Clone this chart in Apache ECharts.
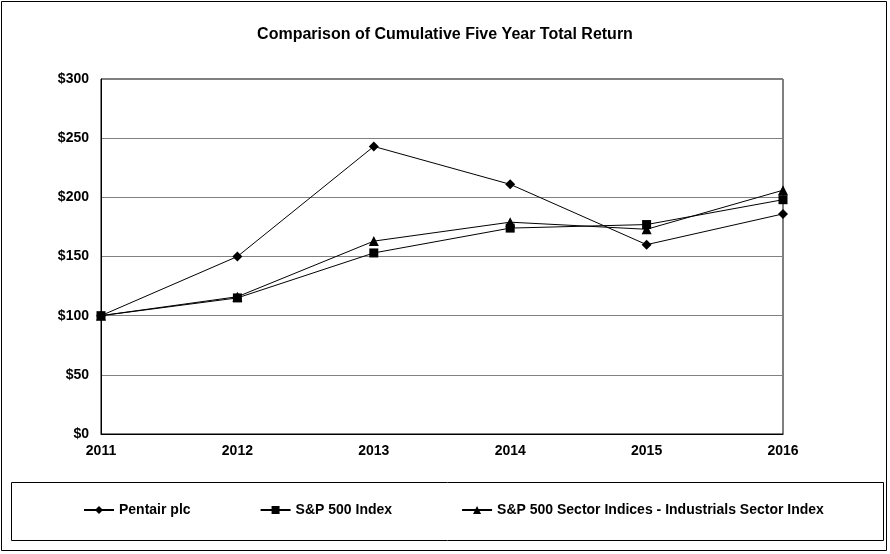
<!DOCTYPE html>
<html><head><meta charset="utf-8">
<script src="https://cdn.jsdelivr.net/npm/echarts@6/dist/echarts.min.js"></script>
<style>html,body{margin:0;padding:0;background:#fff}#c{width:890px;height:554px}</style>
</head><body><div id="c"></div>
<script>
const years = ['2011','2012','2013','2014','2015','2016'];
const pentair = [100, 150, 243, 211, 160, 186];
const sp500 = [100, 115, 153, 174, 177, 198];
const industrials = [100, 116, 163, 179, 173, 206];
const seriesNames = ['Pentair plc', 'S&P 500 Index', 'S&P 500 Sector Indices - Industrials Sector Index'];

const font = 'Arial, "Liberation Sans", sans-serif';
const chart = echarts.init(document.getElementById('c'));
function mk(name, data, symbol, size) {
  return {
    name, type: 'line', data, symbol, symbolSize: size,
    lineStyle: {color: '#000', width: 1},
    itemStyle: {color: '#000'},
    emphasis: {disabled: true},
    animation: false
  };
}
chart.setOption({
  animation: false,
  title: {
    text: 'Comparison of Cumulative Five Year Total Return',
    left: 'center', top: 22,
    textStyle: {fontFamily: font, fontSize: 16, fontWeight: 'bold', color: '#000'}
  },
  graphic: [
    {type: 'rect', shape: {x: 1.5, y: 1.5, width: 885, height: 549}, style: {fill: 'none', stroke: '#000', lineWidth: 1}, silent: true, z: -1},
    {type: 'rect', shape: {x: 11.5, y: 482.5, width: 872, height: 58}, style: {fill: 'none', stroke: '#000', lineWidth: 1}, silent: true, z: -1}
  ],
  legend: {
    data: seriesNames,
    top: 498, left: 78,
    itemWidth: 30, itemHeight: 10, itemGap: 69,
    textStyle: {fontFamily: font, fontSize: 14, fontWeight: 'bold', color: '#000'},
    selectedMode: false
  },
  grid: {left: 101, right: 107, top: 79, bottom: 120, show: true, borderColor: '#000', borderWidth: 1},
  xAxis: {
    type: 'category', data: years, boundaryGap: false,
    axisLine: {lineStyle: {color: '#000', width: 1}},
    axisTick: {show: false},
    axisLabel: {fontFamily: font, fontSize: 14, fontWeight: 'bold', color: '#000', margin: 10},
    splitLine: {show: false}
  },
  yAxis: {
    type: 'value', min: 0, max: 300, interval: 50,
    axisLine: {show: true, lineStyle: {color: '#000', width: 1}},
    axisTick: {show: false},
    axisLabel: {fontFamily: font, fontSize: 14, fontWeight: 'bold', color: '#000', margin: 12, formatter: v => '$' + v},
    splitLine: {lineStyle: {color: '#808080', width: 1}}
  },
  series: [
    mk(seriesNames[0], pentair, 'diamond', 10),
    mk(seriesNames[1], sp500, 'rect', 9),
    mk(seriesNames[2], industrials, 'triangle', 10)
  ]
});
</script></body></html>
